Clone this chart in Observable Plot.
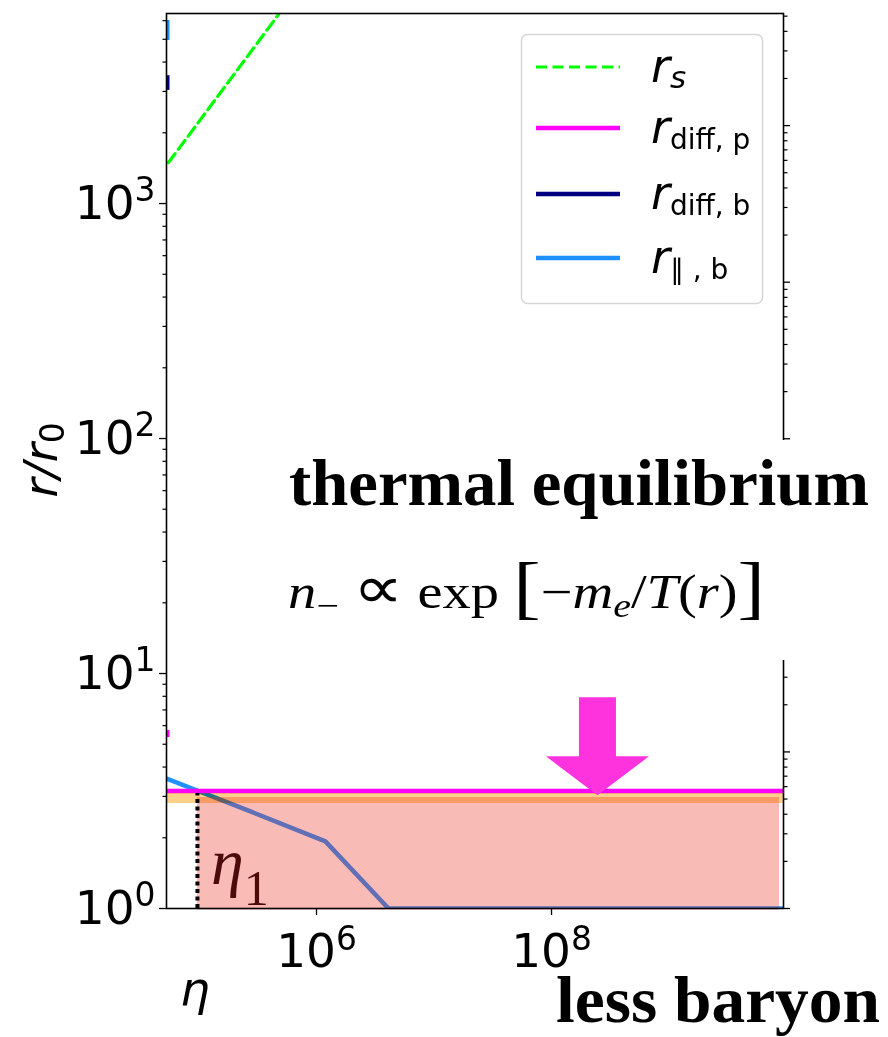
<!DOCTYPE html>
<html>
<head>
<meta charset="utf-8">
<script src="https://cdn.jsdelivr.net/npm/d3@7"></script>
<script src="https://cdn.jsdelivr.net/npm/@observablehq/plot@0.6"></script>
<style>
  body { margin: 0; background: #fff; }
  #chart { width: 888px; height: 1037px; }
</style>
</head>
<body>
<div id="chart"></div>
<script>
// ---- axes ----
const etaDomain = [5.29e4, 9.42e9];
const rDomain = [1, 6438];
const twinDomain = [1, 5.2e5];          // unlabeled right-hand (twin) log axis
const xTicks = [1e6, 1e8];
const xTickLabels = ["10⁶", "10⁸"];
const yTicks = [1, 10, 100, 1000];
const yTickLabels = ["10⁰", "10¹", "10²", "10³"];
const twinTicks = [1, 10, 100, 1e3, 1e4, 1e5];

// ---- series ----
// r_s (sonic radius)
const rsEta = [5.5e4, 4.75e5];
const rsVal = [1494, 6370];
// r_parallel,b
const rParEta = [5.29e4, 2.74e5, 1.19e6, 4.10e6, 9.42e9];
const rParVal = [3.57, 2.59, 1.93, 1.0, 1.0];
// r_diff,p
const rDiffPEta = [5.29e4, 9.42e9];
const rDiffPVal = [3.16, 3.16];
// short pieces of the curves that touch the left edge
const stubSeries = ["r_par", "r_diffb", "r_diffp"];
const stubLo = [4940, 3030, 5.34];
const stubHi = [6010, 3500, 5.72];
const seriesColor = { r_s: "#00ff00", r_diffp: "#ff00ff", r_diffb: "#000080", r_par: "#1e90ff" };

// ---- shaded regions ----
const bandEta = [5.29e4, 9.42e9];   // orange band
const bandR = [2.797, 3.087];
const eqEta = [9.7e4, 8.72e9];      // thermal-equilibrium region
const eqR = [0.985, 2.967];
const eta1 = 9.7e4;
const arrowEta = 2.46e8;
const arrowR = 3.03;

// ---- tables ----
const rs = rsEta.map((e, i) => ({ eta: e, r: rsVal[i] }));
const rPar = rParEta.map((e, i) => ({ eta: e, r: rParVal[i] }));
const rDiffP = rDiffPEta.map((e, i) => ({ eta: e, r: rDiffPVal[i] }));
const stubs = stubSeries.map((s, i) => ({ eta: etaDomain[0], lo: stubLo[i], hi: stubHi[i], color: seriesColor[s] }));
const band = [{ x1: bandEta[0], x2: bandEta[1], y1: bandR[0], y2: bandR[1] }];
const eqRegion = [{ x1: eqEta[0], x2: eqEta[1], y1: eqR[0], y2: eqR[1] }];

// minor ticks of the log axes
const minorY = [];
for (const d of [1, 10, 100, 1000]) for (let m = 2; m <= 9; m++) if (d * m < rDomain[1]) minorY.push(d * m);
const toPrimary = v => Math.pow(10, Math.log10(v) * Math.log10(rDomain[1]) / Math.log10(twinDomain[1]));
const twinMinor = [];
for (const d of twinTicks) for (let m = 2; m <= 9; m++) if (d * m < twinDomain[1]) twinMinor.push(d * m);

// block arrow symbol, tip at the anchor point
const blockArrow = {
  draw(ctx) {
    ctx.moveTo(0, 0);
    ctx.lineTo(-51.5, -39);
    ctx.lineTo(-18.5, -39);
    ctx.lineTo(-18.5, -98);
    ctx.lineTo(18.5, -98);
    ctx.lineTo(18.5, -39);
    ctx.lineTo(51.5, -39);
    ctx.closePath();
  }
};

const chart = Plot.plot({
  width: 888,
  height: 1037,
  marginLeft: 166,
  marginRight: 105,
  marginTop: 13,
  marginBottom: 129,
  x: { type: "log", domain: etaDomain, axis: null },
  y: { type: "log", domain: rDomain, axis: null },
  style: { fontFamily: "DejaVu Sans", background: "#fff", overflow: "visible" },
  marks: [
    Plot.line(rs, { x: "eta", y: "r", stroke: seriesColor.r_s, strokeWidth: 3.2, strokeDasharray: "11,5.5", clip: true }),
    Plot.ruleX(stubs, { x: "eta", y1: "lo", y2: "hi", stroke: "color", strokeWidth: 6, clip: true }),
    Plot.line(rPar, { x: "eta", y: "r", stroke: seriesColor.r_par, strokeWidth: 4.5, clip: true }),
    Plot.line(rDiffP, { x: "eta", y: "r", stroke: seriesColor.r_diffp, strokeWidth: 4.5, clip: true }),
    Plot.rect(band, { x1: "x1", x2: "x2", y1: "y1", y2: "y2", fill: "#ffd08a", mixBlendMode: "multiply" }),
    Plot.rect(eqRegion, { x1: "x1", x2: "x2", y1: "y1", y2: "y2", fill: "#ec2d1e", fillOpacity: 0.324 }),
    Plot.ruleX([eta1], { x: d => d, y1: rDomain[0], y2: bandR[1], stroke: "#000", strokeWidth: 4, strokeDasharray: "4,3.5" }),
    Plot.dot([{ eta: arrowEta, r: arrowR }], { x: "eta", y: "r", symbol: blockArrow, fill: "#ff33dd", stroke: "none" }),
    // left axis
    Plot.axisY(minorY, { anchor: "left", tickSize: 3.5, tickFormat: () => "", strokeWidth: 1.2 }),
    Plot.axisY(yTicks, { anchor: "left", tickSize: 7, tickPadding: 4, strokeWidth: 1.3,
      tickFormat: d => yTickLabels[yTicks.indexOf(d)], fontSize: 47, fill: "#000" }),
    // bottom axis
    Plot.axisX(xTicks, { anchor: "bottom", tickSize: 7, tickPadding: 18, strokeWidth: 1.3,
      tickFormat: d => xTickLabels[xTicks.indexOf(d)], fontSize: 47, fill: "#000" }),
    // right (twin) axis, no labels
    Plot.axisY(twinTicks.map(toPrimary), { anchor: "right", tickSize: 6, tickFormat: () => "", strokeWidth: 1.3 }),
    Plot.axisY(twinMinor.map(toPrimary), { anchor: "right", tickSize: 3.5, tickFormat: () => "", strokeWidth: 1.2 }),
    Plot.frame({ stroke: "#000", strokeWidth: 1.6 })
  ]
});

document.getElementById("chart").appendChild(chart);

const svg = d3.select(chart);
const sx = chart.scale("x");

// tick labels: typeset the exponent as a raised, smaller digit
const supDigits = { "⁰": "0", "¹": "1", "²": "2", "³": "3", "⁴": "4", "⁵": "5", "⁶": "6", "⁷": "7", "⁸": "8", "⁹": "9" };
svg.selectAll("text").each(function () {
  const el = d3.select(this);
  const s = el.text();
  if (/^10[⁰¹²³⁴⁵⁶⁷⁸⁹]$/.test(s)) {
    el.text("");
    el.append("tspan").text("10");
    el.append("tspan").attr("font-size", "0.7em").attr("dy", "-0.52em").text(supDigits[s[2]]);
  }
});

// η₁ label next to the dotted line
const x1px = sx.apply(eta1);
const eLab = svg.append("text")
  .attr("x", x1px + 14).attr("y", 884).attr("text-anchor", "start")
  .attr("font-family", "Liberation Serif").attr("fill", "#4d0a0a");
eLab.append("tspan").attr("font-style", "italic").attr("font-size", 66).text("η");
eLab.append("tspan").attr("font-size", 50).attr("dy", 21).text("1");

// white box behind the annotation text
svg.append("rect").attr("x", 280).attr("y", 440).attr("width", 608).attr("height", 220).attr("fill", "#fff");

svg.append("text")
  .attr("x", 289).attr("y", 505).attr("text-anchor", "start")
  .attr("font-family", "Liberation Serif").attr("font-weight", "bold").attr("font-size", 66)
  .attr("textLength", 580).attr("lengthAdjust", "spacingAndGlyphs")
  .text("thermal equilibrium");

const f = svg.append("text")
  .attr("x", 288).attr("y", 608).attr("text-anchor", "start")
  .attr("font-family", "Liberation Serif").attr("font-size", 48)
  .attr("textLength", 477).attr("lengthAdjust", "spacingAndGlyphs");
f.append("tspan").attr("font-style", "italic").text("n");
f.append("tspan").attr("font-size", 34).attr("dy", 9).text("−");
f.append("tspan").attr("dy", -9).text(" ");
f.append("tspan").attr("font-size", 60).text("∝");
f.append("tspan").text(" exp ");
f.append("tspan").attr("font-size", 70).attr("dy", 3).text("[");
f.append("tspan").attr("dy", -3).text("−");
f.append("tspan").attr("font-style", "italic").text("m");
f.append("tspan").attr("font-style", "italic").attr("font-size", 34).attr("dy", 9).text("e");
f.append("tspan").attr("dy", -9).text("/");
f.append("tspan").attr("font-style", "italic").text("T");
f.append("tspan").text("(");
f.append("tspan").attr("font-style", "italic").text("r");
f.append("tspan").text(")");
f.append("tspan").attr("font-size", 70).attr("dy", 3).text("]");

svg.append("text")
  .attr("x", 556).attr("y", 1022).attr("text-anchor", "start")
  .attr("font-family", "Liberation Serif").attr("font-weight", "bold").attr("font-size", 66)
  .attr("textLength", 324).attr("lengthAdjust", "spacingAndGlyphs")
  .text("less baryon");

// axis labels
const yl = svg.append("text")
  .attr("transform", "translate(57,460) rotate(-90)")
  .attr("text-anchor", "middle").attr("font-family", "DejaVu Sans").attr("font-size", 47);
yl.append("tspan").attr("font-style", "italic").text("r/r");
yl.append("tspan").attr("font-size", 33).attr("dy", 7).text("0");

svg.append("text")
  .attr("x", 195).attr("y", 1005).attr("text-anchor", "middle")
  .attr("font-family", "DejaVu Sans").attr("font-style", "italic").attr("font-size", 47)
  .text("η");

// legend
const lg = svg.append("g");
lg.append("rect").attr("x", 521.5).attr("y", 34.5).attr("width", 241).attr("height", 269).attr("rx", 6)
  .attr("fill", "#fff").attr("fill-opacity", 0.8).attr("stroke", "#d6d6d6").attr("stroke-width", 1.5);
const legendRows = [
  { key: "r_s", sub: "s", subItalic: true, dash: "11,5.5", width: 3.2 },
  { key: "r_diffp", sub: "diff, p", subItalic: false, dash: null, width: 4.5 },
  { key: "r_diffb", sub: "diff, b", subItalic: false, dash: null, width: 4.5 },
  { key: "r_par", sub: "∥ , b", subItalic: false, dash: null, width: 4.5 }
];
const rowY = [67, 128, 194, 258];
legendRows.forEach((row, i) => {
  const y = rowY[i];
  lg.append("line").attr("x1", 536).attr("x2", 620).attr("y1", y).attr("y2", y)
    .attr("stroke", seriesColor[row.key]).attr("stroke-width", row.width)
    .attr("stroke-dasharray", row.dash);
  const t = lg.append("text").attr("x", 651).attr("y", y + 14.5).attr("text-anchor", "start")
    .attr("font-family", "DejaVu Sans").attr("font-size", 46);
  t.append("tspan").attr("font-style", "italic").text("r");
  t.append("tspan").attr("font-size", row.subItalic ? 31 : 28).attr("dy", 6)
    .attr("font-style", row.subItalic ? "italic" : "normal").text(row.sub);
});
</script>
</body>
</html>
